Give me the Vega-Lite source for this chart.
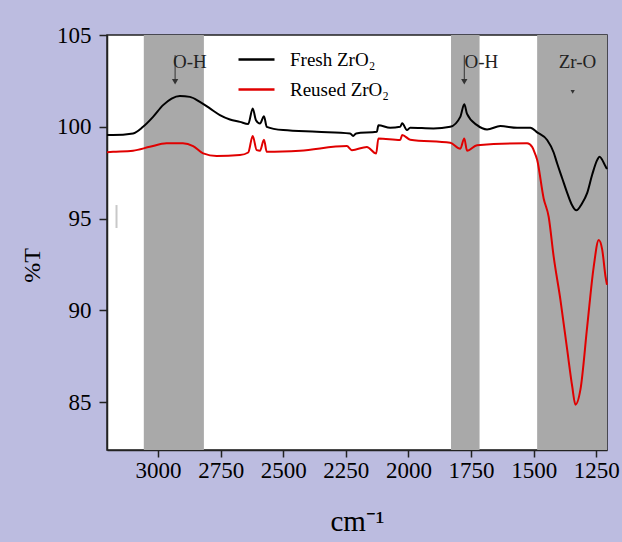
{
  "$schema": "https://vega.github.io/schema/vega-lite/v6.json",
  "width": 500,
  "height": 415,
  "autosize": {"type": "none"},
  "padding": {"left": 107, "top": 35, "right": 15, "bottom": 92},
  "background": "#bcbce0",
  "config": {
    "font": "Liberation Serif",
    "view": {"fill": "white", "stroke": "#222222", "strokeWidth": 1.5}
  },
  "layer": [
    {
      "data": {"values": [
        {"wn": 3057, "wn2": 2817},
        {"wn": 1830, "wn2": 1716},
        {"wn": 1486, "wn2": 1207}
      ]},
      "mark": {"type": "rect", "color": "#a9a9a9"},
      "encoding": {
        "x": {"field": "wn", "type": "quantitative", "scale": {"domain": [1207, 3204], "reverse": true, "nice": false, "zero": false}},
        "x2": {"field": "wn2"}
      }
    },
    {
      "data": {"values": [
        {"wn": 3166, "val": 95.74, "val2": 94.49}
      ]},
      "mark": {"type": "rule", "color": "#c8c8c8", "strokeWidth": 2},
      "encoding": {
        "x": {"field": "wn", "type": "quantitative"},
        "y": {"field": "val", "type": "quantitative"},
        "y2": {"field": "val2"}
      }
    },
    {
      "data": {"values": [
        {"s": "Fresh ZrO₂", "wn": 3204, "val": 99.55},
        {"s": "Fresh ZrO₂", "wn": 3180, "val": 99.55},
        {"s": "Fresh ZrO₂", "wn": 3100, "val": 99.64},
        {"s": "Fresh ZrO₂", "wn": 3060, "val": 100.0},
        {"s": "Fresh ZrO₂", "wn": 3020, "val": 100.54},
        {"s": "Fresh ZrO₂", "wn": 2980, "val": 101.18},
        {"s": "Fresh ZrO₂", "wn": 2946, "val": 101.54},
        {"s": "Fresh ZrO₂", "wn": 2913, "val": 101.68},
        {"s": "Fresh ZrO₂", "wn": 2873, "val": 101.63},
        {"s": "Fresh ZrO₂", "wn": 2833, "val": 101.36},
        {"s": "Fresh ZrO₂", "wn": 2793, "val": 101.0},
        {"s": "Fresh ZrO₂", "wn": 2753, "val": 100.64},
        {"s": "Fresh ZrO₂", "wn": 2713, "val": 100.4},
        {"s": "Fresh ZrO₂", "wn": 2673, "val": 100.27},
        {"s": "Fresh ZrO₂", "wn": 2640, "val": 100.15},
        {"s": "Fresh ZrO₂", "wn": 2622, "val": 101.0},
        {"s": "Fresh ZrO₂", "wn": 2609, "val": 100.36},
        {"s": "Fresh ZrO₂", "wn": 2593, "val": 100.18},
        {"s": "Fresh ZrO₂", "wn": 2577, "val": 100.58},
        {"s": "Fresh ZrO₂", "wn": 2566, "val": 100.0},
        {"s": "Fresh ZrO₂", "wn": 2500, "val": 99.82},
        {"s": "Fresh ZrO₂", "wn": 2366, "val": 99.73},
        {"s": "Fresh ZrO₂", "wn": 2233, "val": 99.64},
        {"s": "Fresh ZrO₂", "wn": 2221, "val": 99.5},
        {"s": "Fresh ZrO₂", "wn": 2209, "val": 99.64},
        {"s": "Fresh ZrO₂", "wn": 2126, "val": 99.73},
        {"s": "Fresh ZrO₂", "wn": 2120, "val": 100.09},
        {"s": "Fresh ZrO₂", "wn": 2073, "val": 99.95},
        {"s": "Fresh ZrO₂", "wn": 2033, "val": 100.0},
        {"s": "Fresh ZrO₂", "wn": 2025, "val": 100.2},
        {"s": "Fresh ZrO₂", "wn": 2006, "val": 99.82},
        {"s": "Fresh ZrO₂", "wn": 1993, "val": 99.95},
        {"s": "Fresh ZrO₂", "wn": 1900, "val": 99.91},
        {"s": "Fresh ZrO₂", "wn": 1833, "val": 100.0},
        {"s": "Fresh ZrO₂", "wn": 1793, "val": 100.54},
        {"s": "Fresh ZrO₂", "wn": 1777, "val": 101.23},
        {"s": "Fresh ZrO₂", "wn": 1766, "val": 100.7},
        {"s": "Fresh ZrO₂", "wn": 1726, "val": 100.09},
        {"s": "Fresh ZrO₂", "wn": 1686, "val": 99.86},
        {"s": "Fresh ZrO₂", "wn": 1633, "val": 100.04},
        {"s": "Fresh ZrO₂", "wn": 1566, "val": 99.95},
        {"s": "Fresh ZrO₂", "wn": 1513, "val": 99.95},
        {"s": "Fresh ZrO₂", "wn": 1486, "val": 99.7},
        {"s": "Fresh ZrO₂", "wn": 1446, "val": 99.28},
        {"s": "Fresh ZrO₂", "wn": 1420, "val": 98.6},
        {"s": "Fresh ZrO₂", "wn": 1406, "val": 98.0},
        {"s": "Fresh ZrO₂", "wn": 1386, "val": 97.2},
        {"s": "Fresh ZrO₂", "wn": 1366, "val": 96.4},
        {"s": "Fresh ZrO₂", "wn": 1349, "val": 95.8},
        {"s": "Fresh ZrO₂", "wn": 1329, "val": 95.45},
        {"s": "Fresh ZrO₂", "wn": 1308, "val": 95.8},
        {"s": "Fresh ZrO₂", "wn": 1286, "val": 96.4},
        {"s": "Fresh ZrO₂", "wn": 1266, "val": 97.4},
        {"s": "Fresh ZrO₂", "wn": 1246, "val": 98.2},
        {"s": "Fresh ZrO₂", "wn": 1237, "val": 98.37},
        {"s": "Fresh ZrO₂", "wn": 1213, "val": 97.85},
        {"s": "Fresh ZrO₂", "wn": 1207, "val": 97.7},
        {"s": "Reused ZrO₂", "wn": 3204, "val": 98.62},
        {"s": "Reused ZrO₂", "wn": 3180, "val": 98.64},
        {"s": "Reused ZrO₂", "wn": 3100, "val": 98.7},
        {"s": "Reused ZrO₂", "wn": 3033, "val": 98.91},
        {"s": "Reused ZrO₂", "wn": 2966, "val": 99.1},
        {"s": "Reused ZrO₂", "wn": 2901, "val": 99.1},
        {"s": "Reused ZrO₂", "wn": 2860, "val": 98.95},
        {"s": "Reused ZrO₂", "wn": 2820, "val": 98.55},
        {"s": "Reused ZrO₂", "wn": 2766, "val": 98.41},
        {"s": "Reused ZrO₂", "wn": 2673, "val": 98.46},
        {"s": "Reused ZrO₂", "wn": 2640, "val": 98.6},
        {"s": "Reused ZrO₂", "wn": 2622, "val": 99.5},
        {"s": "Reused ZrO₂", "wn": 2606, "val": 98.73},
        {"s": "Reused ZrO₂", "wn": 2593, "val": 98.7},
        {"s": "Reused ZrO₂", "wn": 2577, "val": 99.3},
        {"s": "Reused ZrO₂", "wn": 2566, "val": 98.64},
        {"s": "Reused ZrO₂", "wn": 2433, "val": 98.7},
        {"s": "Reused ZrO₂", "wn": 2246, "val": 98.95},
        {"s": "Reused ZrO₂", "wn": 2226, "val": 98.73},
        {"s": "Reused ZrO₂", "wn": 2166, "val": 98.9},
        {"s": "Reused ZrO₂", "wn": 2129, "val": 98.55},
        {"s": "Reused ZrO₂", "wn": 2120, "val": 99.37},
        {"s": "Reused ZrO₂", "wn": 2033, "val": 99.28},
        {"s": "Reused ZrO₂", "wn": 2025, "val": 99.55},
        {"s": "Reused ZrO₂", "wn": 1993, "val": 99.3},
        {"s": "Reused ZrO₂", "wn": 1833, "val": 99.13},
        {"s": "Reused ZrO₂", "wn": 1793, "val": 98.8},
        {"s": "Reused ZrO₂", "wn": 1777, "val": 99.37},
        {"s": "Reused ZrO₂", "wn": 1766, "val": 98.7},
        {"s": "Reused ZrO₂", "wn": 1726, "val": 99.0},
        {"s": "Reused ZrO₂", "wn": 1526, "val": 99.1},
        {"s": "Reused ZrO₂", "wn": 1506, "val": 98.91},
        {"s": "Reused ZrO₂", "wn": 1500, "val": 98.73},
        {"s": "Reused ZrO₂", "wn": 1486, "val": 98.2},
        {"s": "Reused ZrO₂", "wn": 1460, "val": 96.1},
        {"s": "Reused ZrO₂", "wn": 1440, "val": 95.1},
        {"s": "Reused ZrO₂", "wn": 1420, "val": 92.93},
        {"s": "Reused ZrO₂", "wn": 1393, "val": 90.58},
        {"s": "Reused ZrO₂", "wn": 1366, "val": 87.86},
        {"s": "Reused ZrO₂", "wn": 1346, "val": 85.87},
        {"s": "Reused ZrO₂", "wn": 1333, "val": 84.87},
        {"s": "Reused ZrO₂", "wn": 1313, "val": 85.7},
        {"s": "Reused ZrO₂", "wn": 1286, "val": 89.13},
        {"s": "Reused ZrO₂", "wn": 1260, "val": 92.39},
        {"s": "Reused ZrO₂", "wn": 1240, "val": 93.84},
        {"s": "Reused ZrO₂", "wn": 1226, "val": 93.3},
        {"s": "Reused ZrO₂", "wn": 1213, "val": 91.85},
        {"s": "Reused ZrO₂", "wn": 1207, "val": 91.4}
      ]},
      "mark": {"type": "line", "strokeWidth": 2, "interpolate": "monotone"},
      "encoding": {
        "x": {
          "field": "wn", "type": "quantitative",
          "scale": {"domain": [1207, 3204], "reverse": true, "nice": false, "zero": false},
          "axis": {
            "title": "cm⁻¹", "values": [1250, 1500, 1750, 2000, 2250, 2500, 2750, 3000], "format": "d",
            "grid": false, "domainColor": "#222222", "domainWidth": 1.5,
            "tickColor": "#222222", "tickSize": 7, "tickWidth": 1.5,
            "labelFontSize": 23, "labelColor": "black", "labelPadding": 2, "labelFlush": false,
            "titleFontSize": 29, "titleFontWeight": "normal", "titleColor": "black",
            "titleY": 80, "titleBaseline": "alphabetic"
          }
        },
        "y": {
          "field": "val", "type": "quantitative",
          "scale": {"domain": [82.4, 105], "nice": false, "zero": false},
          "axis": {
            "title": "%T", "values": [85, 90, 95, 100, 105], "format": "d",
            "grid": false, "domainColor": "#222222", "domainWidth": 1.5,
            "tickColor": "#222222", "tickSize": 8, "tickWidth": 1.5,
            "labelFontSize": 23, "labelColor": "black", "labelPadding": 8, "labelFlush": false,
            "titleFontSize": 24, "titleFontWeight": "normal", "titleColor": "black",
            "titleX": -75, "titleY": 230, "titleAngle": 270, "titleBaseline": "middle", "titleAlign": "center"
          }
        },
        "color": {
          "field": "s", "type": "nominal",
          "scale": {"domain": ["Fresh ZrO₂", "Reused ZrO₂"], "range": ["#000000", "#e00000"]},
          "legend": {
            "title": null, "orient": "none", "legendX": 130, "legendY": 5,
            "symbolType": "stroke", "symbolSize": 1296, "symbolStrokeWidth": 2.5,
            "labelFontSize": 19, "labelColor": "black", "labelOffset": 14,
            "rowPadding": 0, "padding": 0
          }
        }
      }
    },
    {
      "data": {"values": [
        {"wn": 2932, "val": 103.9, "val2": 102.4},
        {"wn": 1777, "val": 103.9, "val2": 102.4}
      ]},
      "mark": {"type": "rule", "color": "#333333", "strokeWidth": 1},
      "encoding": {
        "x": {"field": "wn", "type": "quantitative"},
        "y": {"field": "val", "type": "quantitative"},
        "y2": {"field": "val2"}
      }
    },
    {
      "data": {"values": [
        {"wn": 2932, "val": 102.45, "sz": 40},
        {"wn": 1777, "val": 102.45, "sz": 40},
        {"wn": 1344, "val": 101.9, "sz": 18}
      ]},
      "mark": {"type": "point", "shape": "triangle-down", "filled": true, "color": "#333333", "opacity": 1},
      "encoding": {
        "x": {"field": "wn", "type": "quantitative"},
        "y": {"field": "val", "type": "quantitative"},
        "size": {"field": "sz", "type": "quantitative", "scale": null, "legend": null}
      }
    },
    {
      "data": {"values": [
        {"wn": 2873, "val": 103.55, "t": "O-H"},
        {"wn": 1709, "val": 103.55, "t": "O-H"},
        {"wn": 1325, "val": 103.55, "t": "Zr-O"}
      ]},
      "mark": {"type": "text", "fontSize": 19, "color": "#222222", "baseline": "middle", "align": "center"},
      "encoding": {
        "x": {"field": "wn", "type": "quantitative"},
        "y": {"field": "val", "type": "quantitative"},
        "text": {"field": "t"}
      }
    }
  ]
}
